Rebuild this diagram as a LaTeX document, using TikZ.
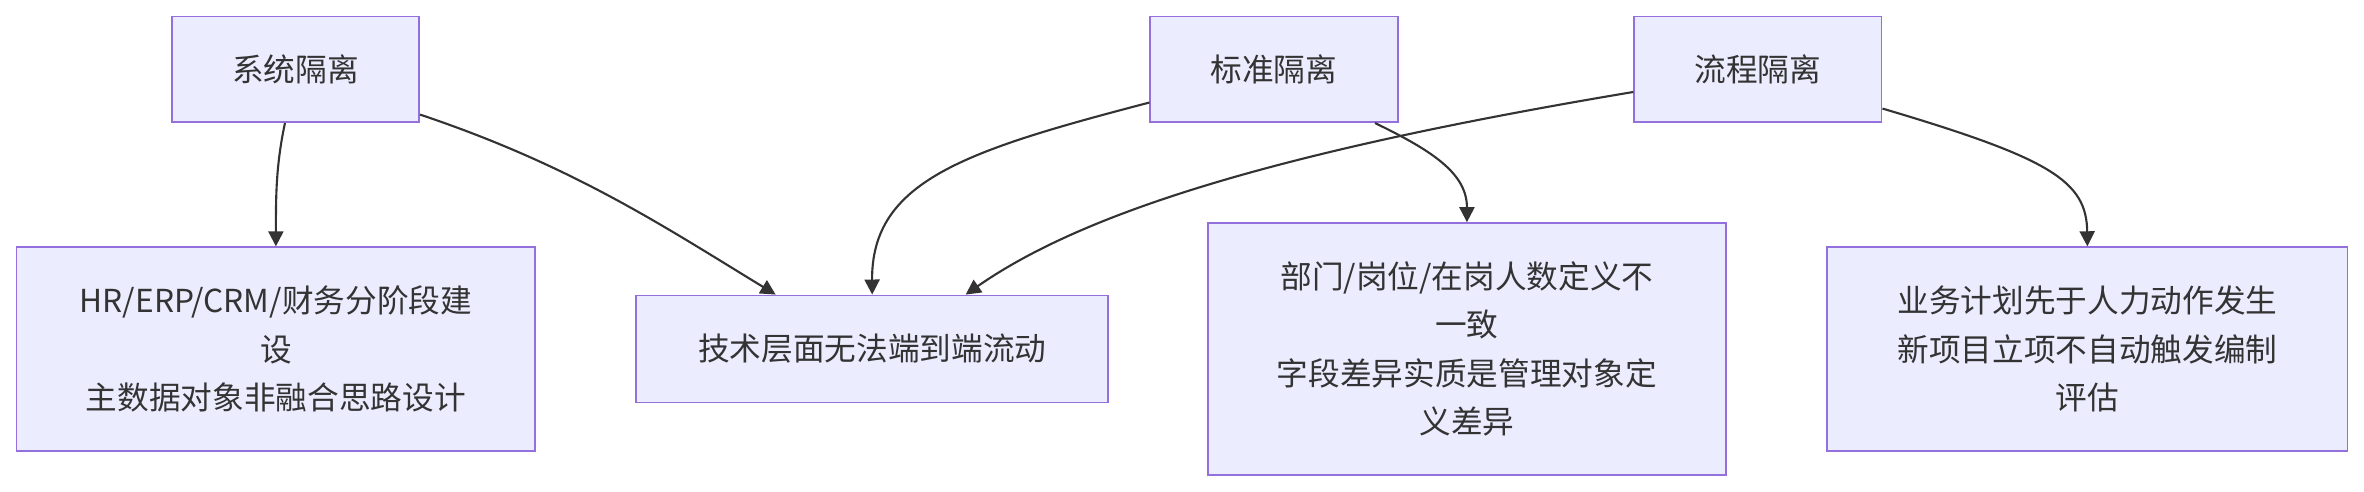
\documentclass[tikz,border=0pt]{standalone}
\usepackage{fontspec}
\setmainfont{Noto Sans CJK SC}
\usetikzlibrary{arrows.meta}
\definecolor{bfill}{HTML}{ECECFF}
\definecolor{bdraw}{HTML}{9370DB}
\definecolor{txt}{HTML}{333333}
\begin{document}
\begin{tikzpicture}[x=0.5pt,y=-0.5pt,
  box/.style={draw=bdraw,fill=bfill,line width=0.6pt,text=txt,align=center,font=\fontsize{10.5}{16}\selectfont,inner sep=0pt},
  arr/.style={draw=txt,line width=0.7pt,-{Triangle[length=5pt,width=5pt]}}]
\useasboundingbox (0,0) rectangle (1568,326);
\node[box,minimum width=82pt,minimum height=35pt] (a) at (196,46) {系统隔离};
\node[box,minimum width=82pt,minimum height=35pt] (b) at (845,46) {标准隔离};
\node[box,minimum width=82pt,minimum height=35pt] (c) at (1166,46) {流程隔离};
\node[box,minimum width=172pt,minimum height=67.5pt] (d) at (183,231.5) {HR/ERP/CRM/财务分阶段建\\设\\主数据对象非融合思路设计};
\node[box,minimum width=156.5pt,minimum height=35.5pt] (e) at (578.5,231.5) {技术层面无法端到端流动};
\node[box,minimum width=172pt,minimum height=83.5pt] (f) at (973,231.5) {部门/岗位/在岗人数定义不\\一致\\字段差异实质是管理对象定\\义差异};
\node[box,minimum width=172.5pt,minimum height=67.5pt] (g) at (1384.5,231.5) {业务计划先于人力动作发生\\新项目立项不自动触发编制\\评估};
\draw[arr] (a.south) ++(-7,0) coordinate (a1) (a1) .. controls (183,110) and (183,130) .. (d.north);
\draw[arr] (a.east) ++(0,30) coordinate (a2) (a2) .. controls (380,110) and (440,150) .. ([xshift=-32pt]e.north);
\draw[arr] (b.west) ++(0,22) coordinate (b1) (b1) .. controls (640,100) and (578,120) .. (e.north);
\draw[arr] (b.south) ++(67,0) coordinate (b2) (b2) .. controls (950,100) and (973,115) .. (f.north);
\draw[arr] (c.west) ++(0,15) coordinate (c1) (c1) .. controls (850,100) and (720,140) .. ([xshift=31pt]e.north);
\draw[arr] (c.east) ++(0,26) coordinate (c2) (c2) .. controls (1360,105) and (1384,120) .. (g.north);
\end{tikzpicture}
\end{document}
